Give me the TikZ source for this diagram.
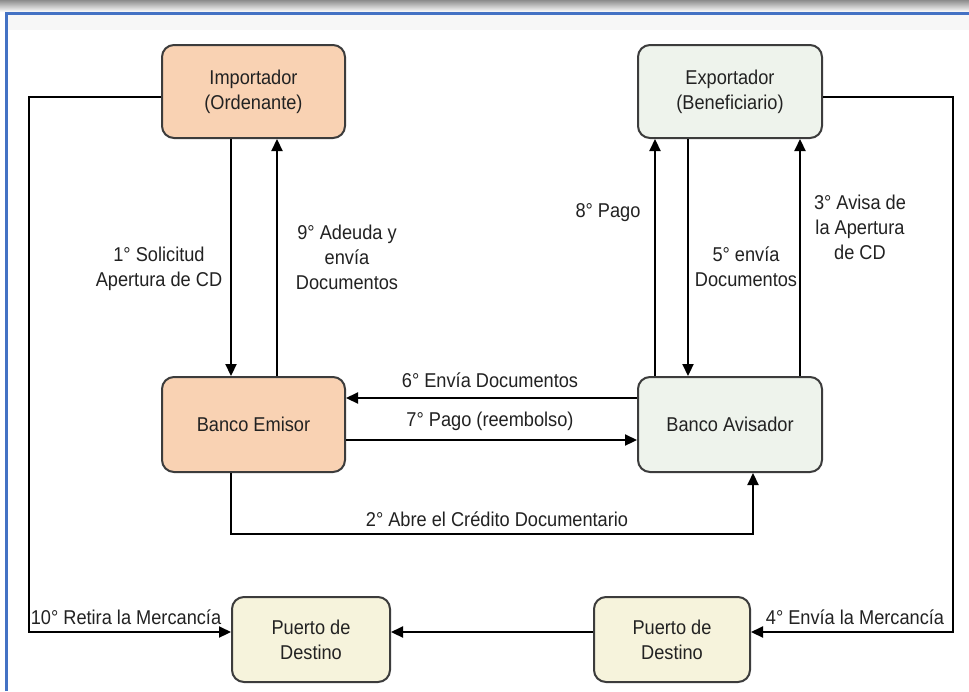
\documentclass[tikz,border=0pt]{standalone}
\usepackage{fontspec}
\setmainfont[FakeStretch=0.91]{Liberation Sans}
\usetikzlibrary{arrows.meta}
\definecolor{peach}{HTML}{F9D2B3}
\definecolor{mint}{HTML}{EEF3EC}
\definecolor{cream}{HTML}{F6F3DC}
\definecolor{edge}{HTML}{3C3C3C}
\definecolor{frameblue}{HTML}{4472C4}
\definecolor{ink}{HTML}{222222}
\begin{document}
\begin{tikzpicture}[x=1pt,y=-1pt,
  box/.style={draw=edge,line width=2pt,rounded corners=12pt,align=center,
    text=ink,font=\fontsize{20}{25}\selectfont,inner sep=0pt},
  lbl/.style={align=center,text=ink,font=\fontsize{20}{25}\selectfont,inner sep=1pt},
  arr/.style={line width=2.2pt,draw=black,-{Triangle[length=12pt,width=11pt]}},
  ln/.style={line width=2.2pt,draw=black}]
\useasboundingbox (0,0) rectangle (969,691);
\fill[white] (0,0) rectangle (969,691);
% frame
\shade[top color=black!45,bottom color=white] (0,0) rectangle (969,12);
\fill[black!3] (8,14) rectangle (969,30);
\draw[frameblue,line width=3pt] (6,691) -- (6,13) -- (969,13);

% boxes
\node[box,fill=peach,minimum width=183pt,minimum height=93pt] (imp) at (253.5,91.5) {Importador\\(Ordenante)};
\node[box,fill=mint,minimum width=184pt,minimum height=93pt] (exp) at (730,91.5) {Exportador\\(Beneficiario)};
\node[box,fill=peach,minimum width=183pt,minimum height=95pt] (emi) at (253.5,424.5) {Banco Emisor};
\node[box,fill=mint,minimum width=184pt,minimum height=95pt] (avi) at (730,424.5) {Banco Avisador};
\node[box,fill=cream,minimum width=158pt,minimum height=85pt] (pl) at (311,639.5) {Puerto de\\Destino};
\node[box,fill=cream,minimum width=156pt,minimum height=85pt] (pr) at (672,639.5) {Puerto de\\Destino};

% importer <-> issuing bank
\draw[arr] ([xshift=-22.5pt]imp.south) -- ([xshift=-22.5pt]emi.north);
\draw[arr] ([xshift=23.5pt]emi.north) -- ([xshift=23.5pt]imp.south);
\node[lbl] (l1) at (159,269) {1° Solicitud\\Apertura de CD};
\node[lbl] (l9) at (347,257) {9° Adeuda y\\envía\\Documentos};

% exporter <-> advising bank
\draw[arr] ([xshift=-75pt]avi.north) -- ([xshift=-75pt]exp.south);
\draw[arr] ([xshift=-42pt]exp.south) -- ([xshift=-42pt]avi.north);
\draw[arr] ([xshift=70pt]avi.north) -- ([xshift=70pt]exp.south);
\node[lbl] (l8) at (608,213) {8° Pago};
\node[lbl] (l5) at (746,267) {5° envía\\Documentos};
\node[lbl] (l3) at (860,227) {3° Avisa de\\la Apertura\\de CD};

% between the banks
\draw[arr] ([yshift=26.5pt]avi.west) -- ([yshift=26.5pt]emi.east);
\draw[arr] ([yshift=-15.5pt]emi.east) -- ([yshift=-15.5pt]avi.west);
\node[lbl] (l6) at (490,380) {6° Envía Documentos};
\node[lbl] (l7) at (490,421) {7° Pago (reembolso)};
\draw[arr] ([xshift=-22.5pt]emi.south) -- ++(0,61) -| ([xshift=23pt]avi.south);
\node[lbl] (l2) at (497,519) {2° Abre el Crédito Documentario};

% goods
\draw[arr] ([yshift=-5.5pt]imp.west) -- ++(-132,0) |- ([yshift=7.5pt]pl.west);
\draw[arr] ([yshift=-5.5pt]exp.east) -- ++(130,0) |- ([yshift=7.5pt]pr.east);
\draw[arr] ([yshift=7.5pt]pr.west) -- ([yshift=7.5pt]pl.east);
\node[lbl] (l10) at (126,617) {10° Retira la Mercancía};
\node[lbl] (l4) at (855,617) {4° Envía la Mercancía};
\end{tikzpicture}
\end{document}
